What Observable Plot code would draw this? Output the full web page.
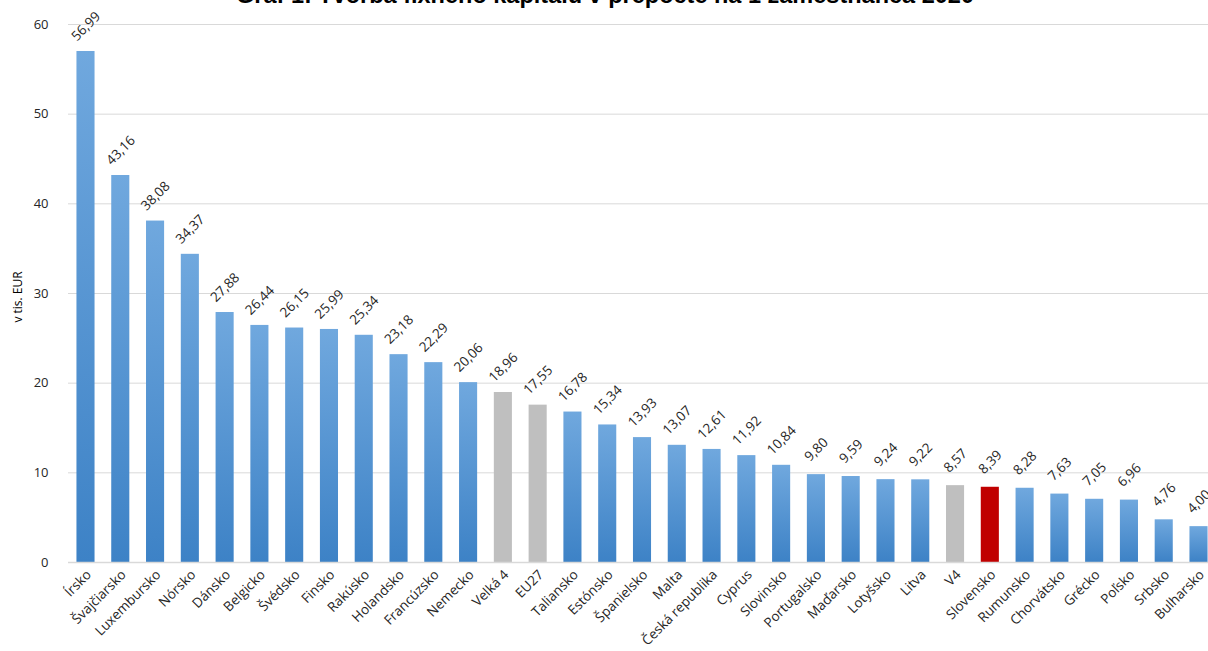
<!DOCTYPE html>
<html><head><meta charset="utf-8">
<script src="https://cdn.jsdelivr.net/npm/d3@7"></script>
<script src="https://cdn.jsdelivr.net/npm/@observablehq/plot@0.6"></script>
<style>
html,body{margin:0;padding:0;background:#fff;overflow:hidden;width:1208px;height:651px}
#wrap{position:relative;width:1208px;height:651px;overflow:hidden}
#title{position:absolute;left:0;width:1210px;top:-17px;text-align:center;font:bold 23.5px "Liberation Sans",Arial,sans-serif;color:#000;line-height:24px;white-space:nowrap}
#chart{position:absolute;left:0;top:0}
#ylab{position:absolute;left:17px;top:297px;transform:translate(-50%,-50%) rotate(-90deg);font:12px "Open Sans",sans-serif;color:#000;white-space:nowrap}
</style></head><body>
<div id="wrap">
<div id="chart"></div>
<div id="title">Graf 1: Tvorba fixného kapitálu v prepočte na 1 zamestnanca 2020</div>
<div id="ylab">v tis. EUR</div>
</div>
<script>
const countries = ["Írsko","Švajčiarsko","Luxembursko","Nórsko","Dánsko","Belgicko","Švédsko","Finsko","Rakúsko","Holandsko","Francúzsko","Nemecko","Velká 4","EU27","Taliansko","Estónsko","Španielsko","Malta","Česká republika","Cyprus","Slovinsko","Portugalsko","Maďarsko","Lotyšsko","Litva","V4","Slovensko","Rumunsko","Chorvátsko","Grécko","Poľsko","Srbsko","Bulharsko"];
const values = [56.99,43.16,38.08,34.37,27.88,26.44,26.15,25.99,25.34,23.18,22.29,20.06,18.96,17.55,16.78,15.34,13.93,13.07,12.61,11.92,10.84,9.80,9.59,9.24,9.22,8.57,8.39,8.28,7.63,7.05,6.96,4.76,4.00];
const greyItems = ["Velká 4","EU27","V4"];
const redItems = ["Slovensko"];
const yTicks = [0,10,20,30,40,50,60];

const data = countries.map((c,i)=>({country:c, value:values[i]}));
const fillOf = d => redItems.includes(d.country) ? "#c00000" : greyItems.includes(d.country) ? "#bfbfbf" : "url(#blueGrad)";
const fmt = v => v.toFixed(2).replace(".", ",");

const chart = Plot.plot({
  width:1208, height:651, marginTop:24, marginBottom:89, marginLeft:68, marginRight:0,
  style:{fontFamily:"'Open Sans', sans-serif", fontSize:"13px", color:"#404040", overflow:"visible", background:"transparent"},
  x:{domain:countries, range:[68,1216], round:false, paddingInner:0.48, paddingOuter:0.243, align:0.5, label:null},
  y:{domain:[0,60], label:null},
  color:{type:"identity"},
  marks:[
    Plot.gridY(yTicks,{stroke:"#d9d9d9", strokeOpacity:1}),
    Plot.barY(data,{x:"country", y:"value", fill:fillOf}),
    Plot.ruleY([0],{stroke:"#d9d9d9", strokeWidth:1.5}),
    Plot.text(data,{x:"country", y:"value", text:d=>fmt(d.value), rotate:-45, dy:-25, fontSize:13.5, fill:"#262626"}),
    Plot.axisY(yTicks,{tickSize:0, tickPadding:20, label:null, fontSize:13, fill:"#262626"}),
    Plot.axisX({tickSize:0, tickRotate:-45, tickPadding:10, dx:3, label:null, fontSize:13.5, fill:"#262626"})
  ]
});
const svg = chart.tagName.toLowerCase()==="svg" ? chart : chart.querySelector("svg");
const grad = d3.select(svg).insert("defs",":first-child").append("linearGradient")
  .attr("id","blueGrad").attr("x1",0).attr("y1",0).attr("x2",0).attr("y2",1);
grad.append("stop").attr("offset","0%").attr("stop-color","#70a8de");
grad.append("stop").attr("offset","100%").attr("stop-color","#3d82c6");
document.getElementById("chart").appendChild(chart);
</script>
</body></html>
